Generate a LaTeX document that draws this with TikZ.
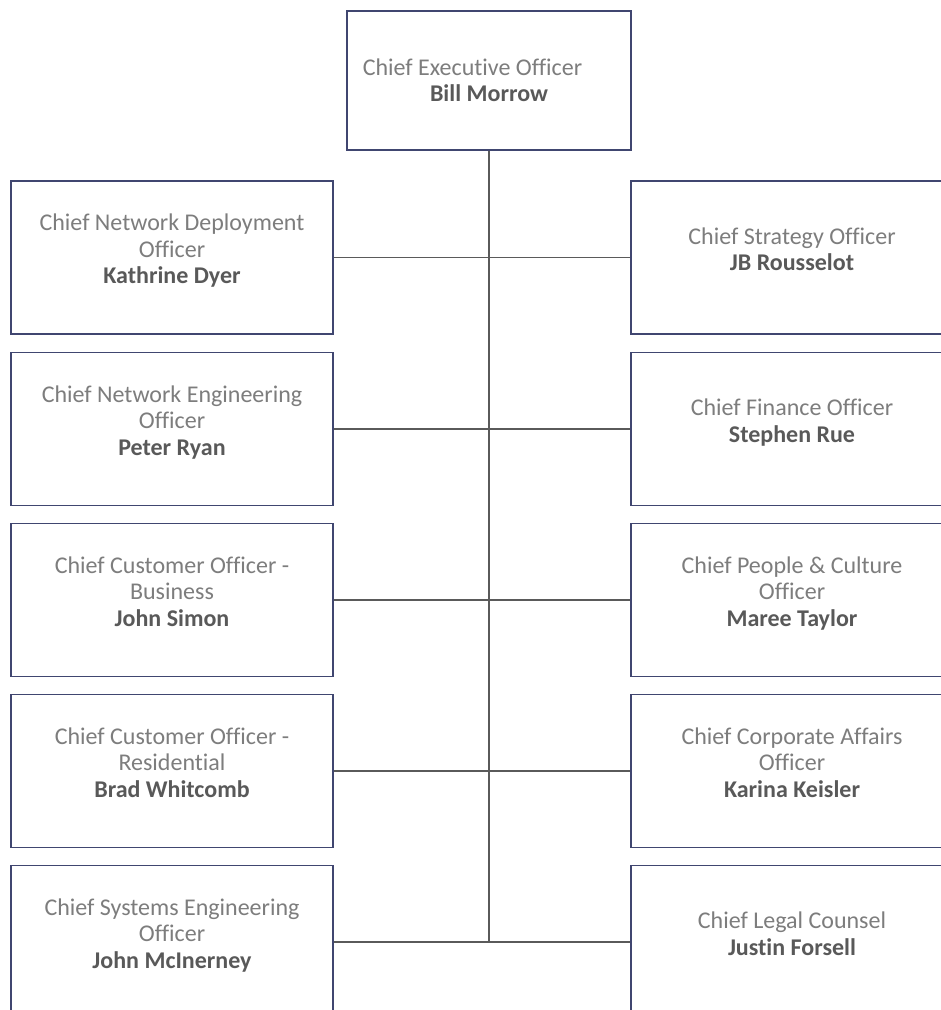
\documentclass[tikz,border=0pt]{standalone}
\usepackage{fontspec}
\setmainfont{Carlito}[Ligatures=NoCommon]
\usetikzlibrary{positioning}
\definecolor{boxline}{RGB}{64,70,112}
\definecolor{linkgray}{RGB}{90,90,90}
\definecolor{titlegray}{RGB}{125,125,125}
\definecolor{namegray}{RGB}{89,89,89}
\newcommand{\who}[1]{\textbf{\color{namegray}#1}}

\begin{document}
\begin{tikzpicture}[x=1pt, y=-1pt,
    % --- styles ---
    card/.style = {rectangle, draw=boxline, line width=1.6pt, fill=white,
                   inner sep=0pt, align=center, text=titlegray,
                   font=\fontsize{24}{26.5}\selectfont},       % any box
    role/.style = {card, minimum width=322pt, minimum height=153pt,
                   text depth=17pt},                            % officer box
    top/.style  = {card, minimum width=284pt, minimum height=139pt}, % CEO box
    link/.style = {color=linkgray, line width=1.6pt}                  % connector
    ]

    % --- page frame ---
    \useasboundingbox (0,0) rectangle (941,1010);
    \clip (0,0) rectangle (941,1010);

    % --- CEO ---
    \node[top] (ceo) at (489,80.5) {Chief Executive Officer\hspace*{33pt}\\ \who{Bill Morrow}};

    % --- left column ---
    \node[role] (l1) at (172,257.5) {Chief Network Deployment\\ Officer\\ \who{Kathrine Dyer}};
    \node[role] (l2) at (172,429)   {Chief Network Engineering\\ Officer\\ \who{Peter Ryan}};
    \node[role] (l3) at (172,600)   {Chief Customer Officer -\\ Business\\ \who{John Simon}};
    \node[role] (l4) at (172,771)   {Chief Customer Officer -\\ Residential\\ \who{Brad Whitcomb}};
    \node[role] (l5) at (172,942)   {Chief Systems Engineering\\ Officer\\ \who{John McInerney}};

    % --- right column (cut by the page edge) ---
    \node[role] (r1) at (792,257.5) {Chief Strategy Officer\\ \who{JB Rousselot}};
    \node[role] (r2) at (792,429)   {Chief Finance Officer\\ \who{Stephen Rue}};
    \node[role] (r3) at (792,600)   {Chief People \& Culture\\ Officer\\ \who{Maree Taylor}};
    \node[role] (r4) at (792,771)   {Chief Corporate Affairs\\ Officer\\ \who{Karina Keisler}};
    \node[role] (r5) at (792,942)   {Chief Legal Counsel\\ \who{Justin Forsell}};

    % --- reporting lines ---
    \draw[link] (ceo.south) -- (ceo.south |- l5.east);
    \foreach \n in {l1,l2,l3,l4,l5} {
        \draw[link] (\n.east) -- (\n.east -| ceo.south);
    }
    \foreach \n in {r1,r2,r3,r4,r5} {
        \draw[link] (\n.west) -- (\n.west -| ceo.south);
    }
\end{tikzpicture}
\end{document}
